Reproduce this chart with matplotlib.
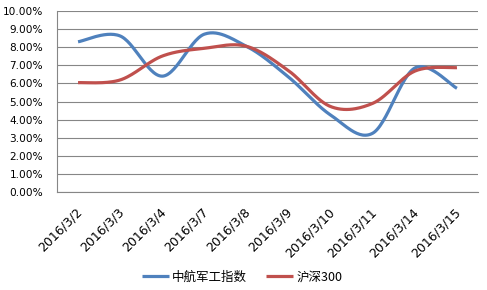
import numpy as np
import matplotlib.pyplot as plt
import matplotlib.transforms as mtransforms
from matplotlib.ticker import FuncFormatter

plt.rcParams['font.family'] = ['Noto Sans CJK SC', 'DejaVu Sans']

dates = ['2016/3/2', '2016/3/3', '2016/3/4', '2016/3/7', '2016/3/8',
         '2016/3/9', '2016/3/10', '2016/3/11', '2016/3/14', '2016/3/15']
avic = [8.30, 8.62, 6.40, 8.72, 8.05, 6.35, 4.25, 3.25, 6.85, 5.73]
hs300 = [6.04, 6.19, 7.51, 7.94, 8.05, 6.70, 4.72, 4.90, 6.68, 6.87]


def smooth(x, y, n=30):
    # excel style smoothed line: bezier segments, control points from neighbours
    x = np.asarray(x, float)
    y = np.asarray(y, float)
    px = np.concatenate([[x[0]], x, [x[-1]]])
    py = np.concatenate([[y[0]], y, [y[-1]]])
    t = np.linspace(0, 1, n)[:, None]
    xs, ys = [], []
    for i in range(len(x) - 1):
        p0 = np.array([x[i], y[i]])
        p3 = np.array([x[i + 1], y[i + 1]])
        p1 = p0 + (np.array([px[i + 2], py[i + 2]]) - np.array([px[i], py[i]])) / 6
        p2 = p3 - (np.array([px[i + 3], py[i + 3]]) - np.array([px[i + 1], py[i + 1]])) / 6
        seg = ((1 - t) ** 3) * p0 + 3 * ((1 - t) ** 2) * t * p1 + 3 * (1 - t) * t ** 2 * p2 + t ** 3 * p3
        xs.append(seg[:, 0])
        ys.append(seg[:, 1])
    return np.concatenate(xs), np.concatenate(ys)


fig = plt.figure(figsize=(4.87, 2.90), dpi=100)
ax = fig.add_axes([57 / 487, 1 - 192 / 290, 421 / 487, 181 / 290])

x = np.arange(len(dates))
sx, sy = smooth(x, avic)
ax.plot(sx, sy, color='#4F81BD', lw=2.3, label='中航军工指数', solid_capstyle='butt')
sx, sy = smooth(x, hs300)
ax.plot(sx, sy, color='#C0504D', lw=2.3, label='沪深300', solid_capstyle='butt')

ax.set_xlim(-0.5, len(dates) - 0.5)
ax.set_ylim(0, 10)
ax.set_yticks(np.arange(0, 11, 1))
ax.yaxis.set_major_formatter(FuncFormatter(lambda v, p: f'{v:.2f}%'))
ax.grid(axis='y', color='#868686', lw=0.8)
ax.set_axisbelow(True)
for s in ['top', 'right']:
    ax.spines[s].set_visible(False)
for s in ['left', 'bottom']:
    ax.spines[s].set_color('#868686')
    ax.spines[s].set_linewidth(0.8)
ax.tick_params(axis='y', length=0, labelsize=7.6, pad=10)
ax.tick_params(axis='x', length=0, labelsize=9, pad=13)
ax.set_xticks(x)
ax.set_xticklabels(dates, rotation=45, ha='right', va='center', rotation_mode='anchor', family='DejaVu Sans')
shift = mtransforms.ScaledTranslation(2 / 100, 0, fig.dpi_scale_trans)
for lab in ax.get_xticklabels():
    lab.set_transform(lab.get_transform() + shift)
for lab in ax.get_yticklabels():
    lab.set_family('DejaVu Sans')

ax.legend(loc='center', bbox_to_anchor=(242 / 487, 1 - 277 / 290), bbox_transform=fig.transFigure,
          ncol=2, frameon=False, fontsize=9, handlelength=2.2, handletextpad=0.25, columnspacing=1.5)

fig.savefig('out.png', dpi=100)
